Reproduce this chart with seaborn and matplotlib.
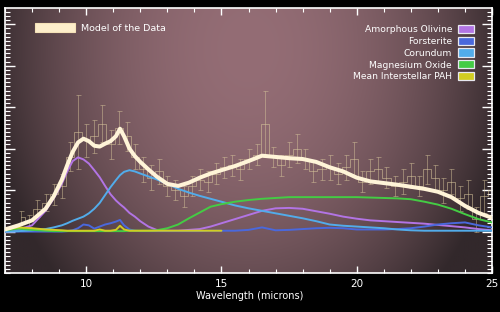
import numpy as np
import pandas as pd
import matplotlib
matplotlib.use("Agg")
import matplotlib.pyplot as plt
from matplotlib.patches import Patch
from matplotlib.colors import to_rgb
from matplotlib.ticker import MultipleLocator
import seaborn as sns

# ---------------- data ----------------
wl = [7.0, 7.5, 8.0, 8.5, 8.8, 9.1, 9.3, 9.5, 9.7, 9.9, 10.1, 10.3, 10.5, 10.7, 10.9,
      11.1, 11.25, 11.4, 11.6, 11.8, 12.0, 12.3, 12.6, 13.0, 13.4, 13.8, 14.2, 14.6,
      15.0, 15.5, 16.0, 16.5, 17.0, 17.5, 18.0, 18.5, 19.0, 19.5, 20.0, 20.5, 21.0,
      21.5, 22.0, 22.5, 23.0, 23.5, 24.0, 24.5, 25.0]

model = [0.05, 0.15, 0.27, 0.55, 0.85, 1.25, 1.60, 1.92, 2.15, 2.24, 2.18, 2.07, 2.05, 2.12, 2.18,
         2.30, 2.48, 2.30, 2.00, 1.82, 1.68, 1.50, 1.33, 1.15, 1.10, 1.18, 1.30, 1.40,
         1.48, 1.58, 1.70, 1.83, 1.80, 1.77, 1.75, 1.68, 1.55, 1.45, 1.30, 1.21, 1.17,
         1.13, 1.08, 1.03, 0.96, 0.83, 0.62, 0.45, 0.33]

olivine = [0.00, 0.05, 0.15, 0.50, 0.80, 1.15, 1.45, 1.70, 1.79, 1.74, 1.64, 1.48, 1.31, 1.10, 0.90,
           0.75, 0.66, 0.58, 0.45, 0.36, 0.25, 0.12, 0.04, 0.02, 0.02, 0.04, 0.06, 0.12,
           0.20, 0.30, 0.40, 0.50, 0.56, 0.57, 0.55, 0.49, 0.43, 0.36, 0.31, 0.27, 0.25,
           0.23, 0.21, 0.19, 0.16, 0.13, 0.10, 0.06, 0.03]

forsterite = [0.00, 0.00, 0.00, 0.00, 0.00, 0.00, 0.01, 0.03, 0.08, 0.17, 0.15, 0.07, 0.12, 0.17, 0.20,
              0.24, 0.28, 0.15, 0.05, 0.02, 0.01, 0.01, 0.01, 0.01, 0.01, 0.01, 0.01, 0.02,
              0.02, 0.02, 0.04, 0.10, 0.03, 0.04, 0.06, 0.08, 0.09, 0.08, 0.05, 0.05, 0.05,
              0.06, 0.08, 0.12, 0.17, 0.20, 0.22, 0.15, 0.10]

corundum = [0.00, 0.01, 0.03, 0.06, 0.10, 0.15, 0.20, 0.26, 0.31, 0.36, 0.44, 0.55, 0.69, 0.88, 1.07,
            1.24, 1.36, 1.44, 1.48, 1.45, 1.40, 1.33, 1.26, 1.15, 1.03, 0.94, 0.86, 0.79,
            0.72, 0.63, 0.56, 0.50, 0.44, 0.38, 0.32, 0.25, 0.17, 0.14, 0.12, 0.10, 0.08,
            0.05, 0.03, 0.02, 0.02, 0.02, 0.02, 0.02, 0.02]

mgo = [0.03, 0.07, 0.04, 0.02, 0.01, 0.01, 0.01, 0.01, 0.01, 0.01, 0.01, 0.01, 0.01, 0.01, 0.01,
       0.01, 0.01, 0.01, 0.02, 0.02, 0.02, 0.02, 0.03, 0.08, 0.17, 0.32, 0.46, 0.60,
       0.66, 0.72, 0.76, 0.79, 0.81, 0.83, 0.83, 0.83, 0.83, 0.83, 0.83, 0.82, 0.81,
       0.80, 0.78, 0.72, 0.65, 0.55, 0.42, 0.30, 0.22]

pah_wl = [7.0, 7.5, 8.0, 8.5, 8.8, 9.1, 9.3, 9.5, 9.7, 9.9, 10.1, 10.3, 10.5, 10.7, 10.9,
          11.1, 11.25, 11.4, 11.6, 11.8, 12.0, 12.3, 12.6, 13.0, 13.4, 13.8, 14.2, 14.6, 15.0]
pah = [0.05, 0.10, 0.08, 0.05, 0.04, 0.03, 0.02, 0.02, 0.02, 0.02, 0.02, 0.02, 0.05, 0.02, 0.02,
       0.04, 0.14, 0.05, 0.02, 0.02, 0.02, 0.02, 0.02, 0.02, 0.02, 0.02, 0.02, 0.02, 0.02]

obs_wl = [7.6, 7.9, 8.2, 8.5, 8.8, 9.1, 9.4, 9.7, 10.0, 10.3, 10.6, 10.9, 11.2, 11.5, 11.8,
          12.1, 12.4, 12.7, 13.0, 13.3, 13.6, 13.9, 14.2, 14.5, 14.8, 15.1, 15.4, 15.7,
          16.0, 16.3, 16.6, 16.9, 17.2, 17.5, 17.8, 18.1, 18.4, 18.7, 19.0, 19.3, 19.6,
          19.9, 20.2, 20.5, 20.8, 21.1, 21.4, 21.7, 22.0, 22.3, 22.6, 22.9, 23.2, 23.5,
          23.8, 24.1, 24.4, 24.7, 25.0]
obs_flux = [0.35, 0.25, 0.55, 0.70, 0.90, 1.10, 1.80, 2.40, 2.20, 2.30, 2.60, 2.10, 2.50, 2.30,
            1.80, 1.50, 1.30, 1.45, 1.10, 1.00, 0.85, 1.10, 1.25, 1.20, 1.40, 1.55, 1.60,
            1.50, 1.75, 1.85, 2.60, 1.80, 1.60, 1.85, 2.00, 1.75, 1.45, 1.50, 1.55, 1.40,
            1.55, 1.75, 1.20, 1.45, 1.50, 1.30, 1.10, 1.20, 1.35, 1.10, 1.50, 1.30, 1.00,
            1.20, 0.80, 0.90, 0.30, 0.85, 1.00]
obs_err = [0.15, 0.15, 0.20, 0.20, 0.25, 0.30, 0.35, 0.90, 0.40, 0.40, 0.45, 0.35, 0.40, 0.35,
           0.30, 0.30, 0.30, 0.30, 0.25, 0.25, 0.25, 0.25, 0.25, 0.25, 0.25, 0.25, 0.25,
           0.25, 0.25, 0.25, 0.80, 0.25, 0.25, 0.30, 0.35, 0.25, 0.25, 0.25, 0.30, 0.25,
           0.30, 0.40, 0.25, 0.30, 0.30, 0.25, 0.25, 0.30, 0.30, 0.25, 0.35, 0.30, 0.30,
           0.30, 0.30, 0.35, 0.30, 0.40, 0.40]

labels = ["Amorphous Olivine", "Forsterite", "Corundum", "Magnesium Oxide",
          "Mean Interstellar PAH"]
colors = ["#b274e4", "#4a68dc", "#52acea", "#44cc44", "#d2cc22"]
model_label = "Model of the Data"
x_ticks = [10, 15, 20, 25]
x_label = "Wavelength (microns)"

# ---------------- figure ----------------
sns.set_theme(style="dark")
plt.rcParams["font.family"] = ["DejaVu Sans"]

fig = plt.figure(figsize=(5.0, 3.12), dpi=100, facecolor="black")
ax = fig.add_axes([0.010, 0.125, 0.974, 0.849])
ax.set_facecolor("#5a4548")

# background gradient
nx, ny = 200, 120
gx = np.linspace(0, 1, nx)[None, :]
gy = np.linspace(0, 1, ny)[:, None]
t = np.clip(((gx - 0.5) / 0.5) ** 2 * 0.85 + ((gy - 0.85) / 0.85) ** 2 * 0.45, 0, 1)
c_center = np.array(to_rgb("#946d75"))
c_edge = np.array(to_rgb("#32282b"))
img = c_center[None, None, :] * (1 - t[..., None]) + c_edge[None, None, :] * t[..., None]
ax.imshow(img, extent=[0, 1, 0, 1], transform=ax.transAxes, origin="lower",
          aspect="auto", zorder=0, interpolation="bilinear")

# observed data: step histogram + error bars
ax.step(obs_wl, obs_flux, where="mid", color="#d9c79c", lw=0.7, alpha=0.55, zorder=2)
ax.errorbar(obs_wl, obs_flux, yerr=obs_err, fmt="none", ecolor="#d9c79c", elinewidth=0.6,
            capsize=1.8, capthick=0.6, alpha=0.55, zorder=2)

# component curves
frames = []
for lab, vals in zip(labels[:4], [olivine, forsterite, corundum, mgo]):
    frames.append(pd.DataFrame({"wl": wl, "flux": vals, "comp": lab}))
frames.append(pd.DataFrame({"wl": pah_wl, "flux": pah, "comp": labels[4]}))
df = pd.concat(frames, ignore_index=True)
palette = dict(zip(labels, colors))
sns.lineplot(data=df, x="wl", y="flux", hue="comp", palette=palette, hue_order=labels,
             sort=False, legend=False, lw=1.4, ax=ax, zorder=3)

# model
mdf = pd.DataFrame({"wl": wl, "flux": model})
sns.lineplot(data=mdf, x="wl", y="flux", color="#fff4d8", lw=2.9, ax=ax, zorder=4,
             legend=False)

ax.set_xlim(7, 25)
ax.set_ylim(-1.0, 5.39)
ax.set_xlabel("")
ax.set_ylabel("")
ax.set_xticks(x_ticks)
ax.set_xticklabels([str(v) for v in x_ticks])
ax.xaxis.set_minor_locator(MultipleLocator(1))
ax.set_yticks([0, 1, 2, 3, 4, 5])
ax.yaxis.set_minor_locator(MultipleLocator(0.1))
ax.tick_params(axis="both", which="both", direction="in", colors="white",
               top=True, right=True, bottom=True, left=True)
ax.tick_params(axis="x", which="major", length=5, width=1.0, labelsize=7.5, pad=4)
ax.tick_params(axis="x", which="minor", length=3, width=0.8)
ax.tick_params(axis="y", which="major", length=7, width=1.0, labelleft=False)
ax.tick_params(axis="y", which="minor", length=3.5, width=0.8)
for s in ax.spines.values():
    s.set_color("white")
    s.set_linewidth(1.2)
ax.grid(False)

fig.text(0.5, 0.035, x_label, color="white", fontsize=7, ha="center", va="bottom")

# legends
leg1 = ax.legend(handles=[Patch(facecolor="#fdeecb", edgecolor="#f5e2b8", lw=0.8)],
                 labels=[model_label], loc="upper left", bbox_to_anchor=(0.045, 0.975),
                 frameon=False, fontsize=6.8, handlelength=4.2, handleheight=1.0,
                 handletextpad=0.6, labelcolor="white")
ax.add_artist(leg1)
handles = [Patch(facecolor=c, edgecolor="#e8e8f0", lw=0.9) for c in colors]
leg2 = ax.legend(handles=handles, labels=labels, loc="upper right",
                 bbox_to_anchor=(0.98, 0.968), frameon=False, fontsize=6.6,
                 markerfirst=False, handlelength=1.8, handleheight=1.0,
                 handletextpad=0.6, labelspacing=0.28, labelcolor="white")

fig.savefig("out.png", dpi=100, facecolor="black")
